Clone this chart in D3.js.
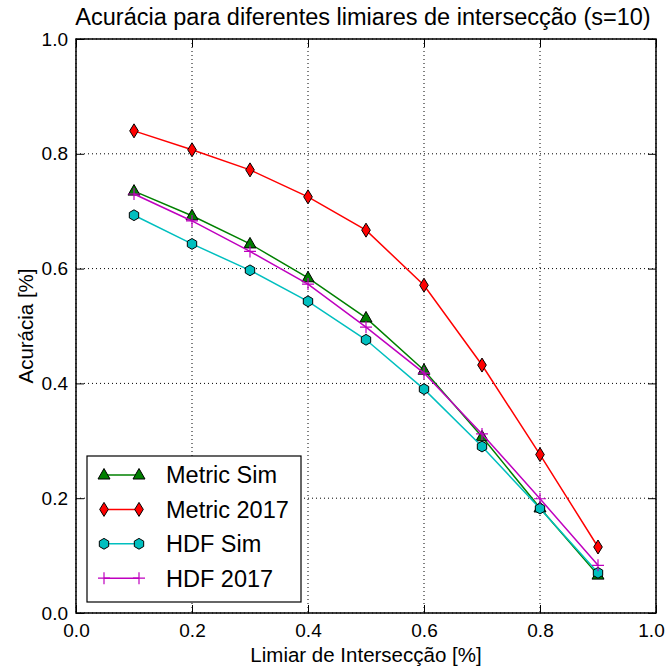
<!DOCTYPE html>
<html><head><meta charset="utf-8">
<script src="https://cdn.jsdelivr.net/npm/d3@7"></script>
<style>body{margin:0;background:#fff;} text{font-family:"Liberation Sans",Arial,sans-serif;}</style>
</head><body>
<svg id="c" width="666" height="668"></svg>
<script>
const thresholds = [0.1,0.2,0.3,0.4,0.5,0.6,0.7,0.8,0.9];
const metricSim  = [0.735,0.692,0.643,0.584,0.514,0.423,0.307,0.183,0.066];
const metric2017 = [0.840,0.807,0.772,0.725,0.667,0.571,0.432,0.276,0.115];
const hdfSim     = [0.693,0.643,0.597,0.543,0.476,0.390,0.290,0.182,0.070];
const hdf2017    = [0.730,0.683,0.630,0.573,0.498,0.418,0.312,0.199,0.083];
const xTicks = [0.0,0.2,0.4,0.6,0.8,1.0];
const yTicks = [0.0,0.2,0.4,0.6,0.8,1.0];
const seriesNames = ["Metric Sim","Metric 2017","HDF Sim","HDF 2017"];

const series = [
  {name:seriesNames[0], values:metricSim, color:"#008000", marker:"triangle"},
  {name:seriesNames[1], values:metric2017, color:"#ff0000", marker:"diamond"},
  {name:seriesNames[2], values:hdfSim, color:"#00bfbf", marker:"hexagon"},
  {name:seriesNames[3], values:hdf2017, color:"#bf00bf", marker:"plus"}
];

const L=76, R=656, T=39, B=613;
const svg = d3.select("#c");
const x = d3.scaleLinear().domain([0,1]).range([L,R]);
const y = d3.scaleLinear().domain([0,1]).range([B,T]);

// grid
const g = svg.append("g");
xTicks.forEach(t=>{ g.append("line").attr("x1",x(t)).attr("x2",x(t)).attr("y1",T).attr("y2",B)
  .attr("stroke","#000").attr("stroke-width",1).attr("stroke-dasharray","1,3"); });
yTicks.forEach(t=>{ g.append("line").attr("y1",y(t)).attr("y2",y(t)).attr("x1",L).attr("x2",R)
  .attr("stroke","#000").attr("stroke-width",1).attr("stroke-dasharray","1,3"); });

// axes with inward ticks
const fmt = d3.format(".1f");
const ax = [
  {axis:d3.axisBottom(x), tr:`translate(0,${B})`, labels:true, pad:11},
  {axis:d3.axisTop(x), tr:`translate(0,${T})`, labels:false, pad:8},
  {axis:d3.axisLeft(y), tr:`translate(${L},0)`, labels:true, pad:8},
  {axis:d3.axisRight(y), tr:`translate(${R},0)`, labels:false, pad:8}
];
ax.forEach((a,i)=>{
  const gg = svg.append("g").attr("transform",a.tr)
    .call(a.axis.tickValues(xTicks).tickFormat(fmt).tickSizeInner(-8).tickSizeOuter(0).tickPadding(a.pad));
  gg.select(".domain").remove();
  gg.selectAll("line").attr("stroke","#000");
  gg.selectAll("text").attr("font-size",19).attr("fill","#000").style("font-family",'"Liberation Sans",Arial,sans-serif');
  if(!a.labels) gg.selectAll("text").remove();
  if(i===0) gg.selectAll("text").filter(d=>d===1).attr("dx",-5);
});
svg.append("rect").attr("x",L).attr("y",T).attr("width",R-L).attr("height",B-T)
  .attr("fill","none").attr("stroke","#000").attr("stroke-width",1.5);

function markerPath(type){
  if(type==="triangle") return "M0,-6.5L6,4L-6,4Z";
  if(type==="diamond") return "M0,-7L4.3,0L0,7L-4.3,0Z";
  if(type==="hexagon"){ const r=5.4; let p=[]; for(let k=0;k<6;k++){const a=Math.PI/6+k*Math.PI/3; p.push([r*Math.cos(a),r*Math.sin(a)]);} return "M"+p.map(d=>d.join(",")).join("L")+"Z"; }
  if(type==="plus") return "M-6,0L6,0M0,-6L0,6";
}
function drawMarker(sel, s){
  if(s.marker==="plus"){
    sel.append("path").attr("d",markerPath("plus")).attr("stroke",s.color).attr("stroke-width",1.2).attr("fill","none");
  } else {
    sel.append("path").attr("d",markerPath(s.marker)).attr("fill",s.color).attr("stroke","#000").attr("stroke-width",1);
  }
}

const line = d3.line().x((d,i)=>x(thresholds[i])).y(d=>y(d));
series.forEach(s=>{
  svg.append("path").datum(s.values).attr("d",line).attr("fill","none").attr("stroke",s.color).attr("stroke-width",1.5);
  s.values.forEach((v,i)=>{
    const m = svg.append("g").attr("transform",`translate(${x(thresholds[i])},${y(v)})`);
    drawMarker(m,s);
  });
});

// legend
const lg = svg.append("g");
lg.append("rect").attr("x",87).attr("y",456).attr("width",214).attr("height",146)
  .attr("fill","#fff").attr("stroke","#000").attr("stroke-width",1.2);
series.forEach((s,i)=>{
  const yy = 475 + i*34.4;
  lg.append("line").attr("x1",104).attr("x2",139).attr("y1",yy).attr("y2",yy).attr("stroke",s.color).attr("stroke-width",1.5);
  [104,139].forEach(xx=>drawMarker(lg.append("g").attr("transform",`translate(${xx},${yy})`),s));
  lg.append("text").attr("x",166).attr("y",yy).attr("dy","0.36em").attr("font-size",23.5).text(s.name);
});

// title and labels
svg.append("text").attr("x",363).attr("y",25).attr("text-anchor","middle").attr("font-size",23.5)
  .text("Acurácia para diferentes limiares de intersecção (s=10)");
svg.append("text").attr("x",366).attr("y",662).attr("text-anchor","middle").attr("font-size",20.5)
  .text("Limiar de Intersecção [%]");
svg.append("text").attr("transform","translate(33,326) rotate(-90)").attr("text-anchor","middle").attr("font-size",20.5)
  .text("Acurácia [%]");
</script>
</body></html>
